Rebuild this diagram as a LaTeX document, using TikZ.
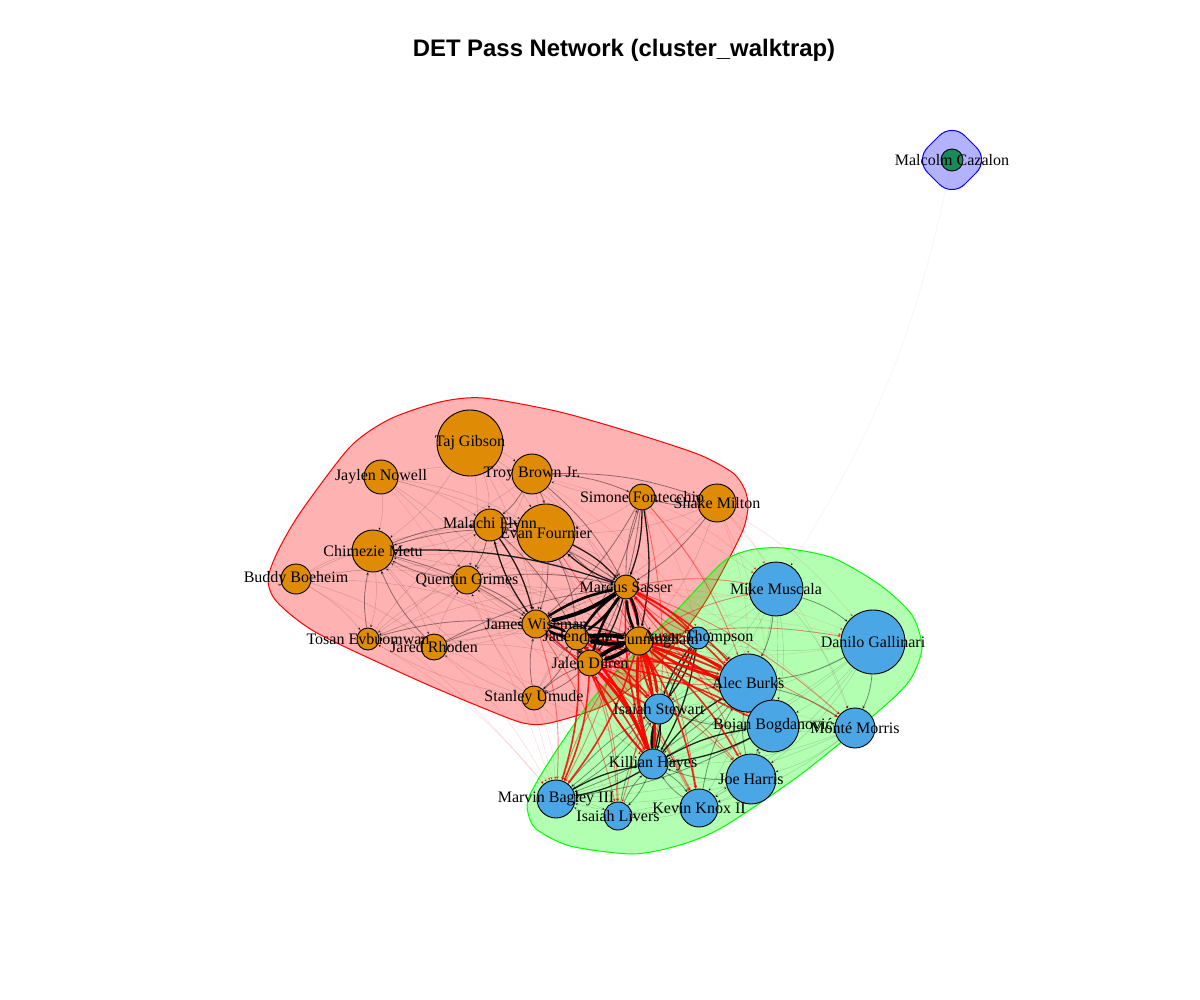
\documentclass[tikz,border=0pt]{standalone}
\usepackage{fontspec}
\setmainfont{Liberation Serif}
\newfontfamily\titlefont{Liberation Sans}
\usetikzlibrary{arrows.meta}
\definecolor{vorange}{RGB}{223,139,6}
\definecolor{vblue}{RGB}{74,166,229}
\definecolor{vgreen}{RGB}{27,138,90}
\begin{document}
\begin{tikzpicture}[x=1pt,y=-1pt,
  vo/.style={circle,draw=black,line width=0.9pt,fill=vorange,inner sep=0pt,minimum size=#1},
  vb/.style={circle,draw=black,line width=0.9pt,fill=vblue,inner sep=0pt,minimum size=#1},
  vg/.style={circle,draw=black,line width=0.9pt,fill=vgreen,inner sep=0pt,minimum size=#1},
  lbl/.style={font=\fontsize{16}{16}\selectfont,inner sep=0pt},
  ed/.style={-{Stealth[length=3.5pt,width=3pt]},bend left=10},
  ek0/.style={ed,draw=black,draw opacity=0.05,line width=0.5pt},
  ek1/.style={ed,draw=black,draw opacity=0.16,line width=0.5pt},
  ek2/.style={ed,draw=black,draw opacity=0.42,line width=0.8pt},
  ek3/.style={ed,draw=black,draw opacity=0.85,line width=1.3pt},
  ek4/.style={ed,draw=black,draw opacity=0.95,line width=2.6pt},
  ek5/.style={ed,draw=black,line width=4pt},
  er1/.style={ed,draw=red,draw opacity=0.15,line width=0.5pt},
  er2/.style={ed,draw=red,draw opacity=0.45,line width=0.9pt},
  er3/.style={ed,draw=red,draw opacity=0.85,line width=1.6pt},
  er4/.style={ed,draw=red,draw opacity=0.95,line width=2.8pt},
  hull/.style={line width=1pt,fill opacity=0.3}
]
\useasboundingbox (0,0) rectangle (1200,1000);
\fill[white] (0,0) rectangle (1200,1000);

% title
\node[font=\titlefont\bfseries\fontsize{23.9}{24}\selectfont,anchor=base,inner sep=0pt] (title) at (624,57) {DET Pass Network (cluster\_walktrap)};

% hulls
\draw[hull,draw=red,fill=red] plot[smooth cycle,tension=0.45] coordinates {
 (483,398) (560,412) (640,435) (700,455) (733,473) (745,490) (748,507) (743,530)
 (723,570) (700,610) (655,668) (605,705) (550,723) (523,723) (483,708) (417,680)
 (317,633) (277,602) (268,580) (277,553) (300,513) (350,447) (390,419) (440,402)};
\draw[hull,draw=green,fill=green] plot[smooth cycle,tension=0.45] coordinates {
 (783,548) (833,558) (880,585) (912,615) (922,648) (910,680) (880,710) (800,775)
 (723,827) (680,845) (633,854) (570,846) (535,828) (527,805) (535,785) (560,745)
 (600,690) (677,610) (723,562) (750,550)};
\draw[hull,draw=blue,fill=blue,rounded corners=18pt] (952,123) -- (989,160) -- (952,197) -- (915,160) -- cycle;

% vertex anchors
\path
 (470,443) node[vo=66,draw=none,fill=none] (vTG) {}
 (381,477) node[vo=34,draw=none,fill=none] (vJN) {}
 (532,474) node[vo=40,draw=none,fill=none] (vTB) {}
 (642,497) node[vo=26,draw=none,fill=none] (vSF) {}
 (717,503) node[vo=38,draw=none,fill=none] (vSM) {}
 (490,525) node[vo=32,draw=none,fill=none] (vMF) {}
 (546,533) node[vo=58,draw=none,fill=none] (vEF) {}
 (373,551) node[vo=42,draw=none,fill=none] (vCM) {}
 (296,579) node[vo=30,draw=none,fill=none] (vBB) {}
 (467,580) node[vo=28,draw=none,fill=none] (vQG) {}
 (626,587) node[vo=24,draw=none,fill=none] (vMS) {}
 (536,624) node[vo=28,draw=none,fill=none] (vJW) {}
 (577,638) node[vo=24,draw=none,fill=none] (vJI) {}
 (639,641) node[vo=28,draw=none,fill=none] (vCC) {}
 (368,639) node[vo=22,draw=none,fill=none] (vTE) {}
 (434,647) node[vo=26,draw=none,fill=none] (vJR) {}
 (590,663) node[vo=26,draw=none,fill=none] (vJD) {}
 (534,698) node[vo=24,draw=none,fill=none] (vSU) {}
 (698,638) node[vb=22,draw=none,fill=none] (vAUS) {}
 (776,589) node[vb=54,draw=none,fill=none] (vMM) {}
 (873,642) node[vb=64,draw=none,fill=none] (vDG) {}
 (748,683) node[vb=58,draw=none,fill=none] (vAB) {}
 (659,709) node[vb=30,draw=none,fill=none] (vIS) {}
 (773,726) node[vb=52,draw=none,fill=none] (vBO) {}
 (855,728) node[vb=40,draw=none,fill=none] (vMO) {}
 (653,764) node[vb=30,draw=none,fill=none] (vKH) {}
 (751,779) node[vb=50,draw=none,fill=none] (vJH) {}
 (556,799) node[vb=38,draw=none,fill=none] (vMB) {}
 (618,816) node[vb=28,draw=none,fill=none] (vIL) {}
 (699,808) node[vb=38,draw=none,fill=none] (vKK) {}
 (952,160) node[vg=22,draw=none,fill=none] (vMC) {};

% ---- edges: faint
\draw[ek0] (vMC) to (vMM);
\foreach \a/\b in {vTG/vJW,vTG/vCM,vTG/vMF,vTG/vTB,vTG/vEF,vTG/vQG,vTG/vMS,vJN/vCM,vJN/vEF,vJN/vMF,vJN/vTB,vJN/vQG,vJN/vJW,vJN/vMS,
 vBB/vCM,vBB/vMS,vBB/vQG,vBB/vTE,vBB/vJR,vBB/vJW,vBB/vMF,vTE/vQG,vTE/vMS,vTE/vJR,vTE/vMF,vSU/vMS,vSU/vTE,vSU/vQG,vSU/vJI,vSU/vJR,vSU/vCM,
 vQG/vTE,vCM/vTE,vCM/vJR,vSM/vCC,vSM/vJW,vSM/vEF,vSF/vEF,vSF/vTB,vTB/vJW,vTB/vCM,vTB/vQG,vJR/vCC,vJR/vQG,vQG/vCC,vCM/vCC,vMF/vCC,
 vTB/vCC,vEF/vJD,vCM/vJD,vJR/vJD,vQG/vJD,vMF/vTE,vJW/vTE,vJW/vJR,vMS/vTE,vMS/vCM,vEF/vQG,vEF/vCM,vMF/vCM,vJW/vCM,vJW/vQG,
 vMM/vIS,vMM/vKH,vDG/vBO,vDG/vJH,vDG/vKK,vMO/vJH,vMO/vKK,vMM/vMO,vDG/vIS,vMM/vBO,vIL/vMB,vKK/vIL,vIL/vKK,vJH/vKK,vKK/vJH,vJH/vIL,
 vMO/vKH,vDG/vKH,vMM/vAUS,vMB/vIL,vKK/vMB,vMO/vMB,vDG/vMB,vMM/vJH,vMO/vIS,vDG/vAUS,vMM/vKK,vJH/vMB}
 \draw[ek1] (\a) to (\b);
\foreach \a/\b in {vEF/vAB,vSF/vAUS,vSF/vMM,vSM/vMM,vSM/vDG,vSM/vAB,vTB/vMM,vMS/vDG,vJR/vMB,vTE/vMB,vSU/vMB,vSU/vIL,vQG/vKH,
 vMF/vKH,vEF/vBO,vCM/vKH,vBB/vMB,vTB/vAB,vJW/vKK,vEF/vMO,vMM/vCC,vDG/vCC,vMO/vCC,vJH/vCC,vMM/vMS,vSM/vBO,vSM/vMO,vSU/vKH,
 vJR/vKH,vTG/vKH,vJN/vMB,vJW/vDG,vSF/vBO,vMF/vAB,vQG/vMB}
 \draw[er1] (\a) to (\b);
% ---- edges: medium
\foreach \a/\b in {vEF/vJW,vTB/vEF,vTB/vMF,vMF/vMS,vCM/vJW,vCM/vMF,vCM/vEF,vQG/vMS,vQG/vJW,vMF/vQG,vQG/vCM,vJR/vJW,vJR/vMS,
 vJR/vCM,vTE/vJW,vSU/vJD,vSU/vJW,vSM/vMS,vSM/vSF,vSF/vJW,vEF/vCC,vJD/vJW,vTE/vCM,vTB/vSF,vEF/vJI,vSF/vJD,vSF/vJI,vMF/vJI,
 vJI/vSU,vJD/vSU,vMS/vSF,vTB/vMS,vTB/vSM,
 vAB/vMO,vBO/vMO,vAB/vKH,vKK/vKH,vIL/vKH,vJH/vKH,vMB/vIS,vIL/vIS,vKK/vAB,vJH/vAB,vJH/vBO,vMM/vAB,vDG/vAB,vDG/vMO,vMM/vDG,
 vAUS/vAB,vAUS/vMB,vIS/vMB,vBO/vMB,vAB/vMB,vKH/vKK,vKH/vIL,vIS/vAB,vBO/vIS}
 \draw[ek2] (\a) to (\b);
\foreach \a/\b in {vMS/vIS,vJW/vAB,vCC/vIL,vJD/vIL,vMS/vKK,vJW/vIS,vCC/vMO,vMS/vMO,vJD/vKK,vJI/vKK,vJW/vMB,vJD/vJH,vMS/vJH,
 vJI/vJH,vAB/vJI,vAB/vJD,vBO/vMS,vIS/vMS,vAUS/vMS,vMB/vCC,vKK/vCC,vSF/vAB,vSF/vKH,vEF/vKH,vMS/vMB,vJW/vIL,vJI/vIL,vJW/vBO,
 vCC/vMM,vMS/vMM,vCC/vDG}
 \draw[er2] (\a) to (\b);
% ---- edges: strong
\foreach \a/\b in {vMF/vJW,vJW/vMF,vEF/vMS,vMS/vEF,vSF/vCC,vSF/vMS,vMS/vJD,vJW/vJD,vJI/vJD,vJD/vJI,vCM/vMS,vMF/vEF,vJW/vCC,
 vIS/vKH,vKH/vAUS,vIS/vAUS,vKH/vBO,vKH/vAB,vBO/vKH,vMB/vKH,vKH/vMB,vAUS/vKH,vAUS/vIS,vAB/vBO}
 \draw[ek3] (\a) to (\b);
\foreach \a/\b in {vMS/vAB,vJD/vIS,vMS/vKH,vJI/vAB,vCC/vAUS,vMS/vAUS,vJW/vKH,vJD/vBO,vCC/vKK,vJI/vIS,vMS/vBO,vJD/vAB,vCC/vJH,
 vCC/vMB,vIS/vCC,vBO/vCC,vAUS/vCC,vKH/vJD,vKH/vMS,vAB/vMS,vJI/vBO,vJD/vMB,vJI/vMB,vKH/vJI,vIS/vJD}
 \draw[er3] (\a) to (\b);
% ---- edges: thick
\foreach \a/\b in {vJW/vMS,vJI/vMS,vMS/vJI,vMS/vCC,vCC/vMS,vJW/vJI,vJI/vJW,vJD/vMS,vKH/vIS}
 \draw[ek4] (\a) to (\b);
\foreach \a/\b in {vCC/vAB,vCC/vKH,vCC/vIS,vCC/vBO,vJD/vKH,vJI/vKH,vKH/vCC,vAB/vCC}
 \draw[er4] (\a) to (\b);
\foreach \a/\b in {vMS/vJW,vCC/vJD,vJD/vCC,vCC/vJI,vJI/vCC}
 \draw[ek5] (\a) to (\b);

% vertices drawn on top
\foreach \n/\d in {vTG/66,vJN/34,vTB/40,vSF/26,vSM/38,vMF/32,vEF/58,vCM/42,vBB/30,vQG/28,vMS/24,vJW/28,vJI/24,vCC/28,vTE/22,vJR/26,vJD/26,vSU/24}
 \draw[line width=0.9pt,fill=vorange] (\n.center) circle[radius=\d/2];
\foreach \n/\d in {vAUS/22,vMM/54,vDG/64,vAB/58,vIS/30,vBO/52,vMO/40,vKH/30,vJH/50,vMB/38,vIL/28,vKK/38}
 \draw[line width=0.9pt,fill=vblue] (\n.center) circle[radius=\d/2];
\draw[line width=0.9pt,fill=vgreen] (vMC.center) circle[radius=11];

% labels
\node[lbl] (lTG) at (vTG) {Taj Gibson};
\node[lbl] (lJN) at (vJN) {Jaylen Nowell};
\node[lbl] (lTB) at (vTB) {Troy Brown Jr.};
\node[lbl] (lSF) at (vSF) {Simone Fontecchio};
\node[lbl] (lSM) at (vSM) {Shake Milton};
\node[lbl] (lMF) at (vMF) {Malachi Flynn};
\node[lbl] (lEF) at (vEF) {Evan Fournier};
\node[lbl] (lCM) at (vCM) {Chimezie Metu};
\node[lbl] (lBB) at (vBB) {Buddy Boeheim};
\node[lbl] (lQG) at (vQG) {Quentin Grimes};
\node[lbl] (lMS) at (vMS) {Marcus Sasser};
\node[lbl] (lJW) at (vJW) {James Wiseman};
\node[lbl] (lJI) at (vJI) {Jaden Ivey};
\node[lbl] (lCC) at (vCC) {Cade Cunningham};
\node[lbl] (lTE) at (vTE) {Tosan Evbuomwan};
\node[lbl] (lJR) at (vJR) {Jared Rhoden};
\node[lbl] (lJD) at (vJD) {Jalen Duren};
\node[lbl] (lSU) at (vSU) {Stanley Umude};
\node[lbl] (lAUS) at (vAUS) {Ausar Thompson};
\node[lbl] (lMM) at (vMM) {Mike Muscala};
\node[lbl] (lDG) at (vDG) {Danilo Gallinari};
\node[lbl] (lAB) at (vAB) {Alec Burks};
\node[lbl] (lIS) at (vIS) {Isaiah Stewart};
\node[lbl] (lBO) at (vBO) {Bojan Bogdanović};
\node[lbl] (lMO) at (vMO) {Monté Morris};
\node[lbl] (lKH) at (vKH) {Killian Hayes};
\node[lbl] (lJH) at (vJH) {Joe Harris};
\node[lbl] (lMB) at (vMB) {Marvin Bagley III};
\node[lbl] (lIL) at (vIL) {Isaiah Livers};
\node[lbl] (lKK) at (vKK) {Kevin Knox II};
\node[lbl] (lMC) at (vMC) {Malcolm Cazalon};
\end{tikzpicture}
\end{document}
